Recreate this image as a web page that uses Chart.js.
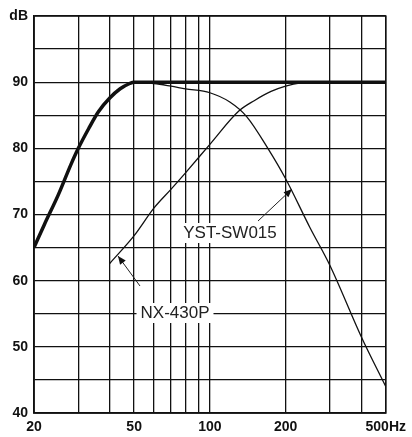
<!DOCTYPE html><html><head><meta charset="utf-8">
<script src="https://cdn.jsdelivr.net/npm/chart.js@4"></script>
<style>html,body{margin:0;background:#fff}#w{width:412px;height:437px}</style></head><body>
<div id="w"><canvas id="c"></canvas></div>
<script>
const combinedFreq=[20,22,25,28,30,33,36,40,44,48,50,55,60,80,100,150,200,300,500];
const combinedDb=[65,68.5,73,77.5,80,83,85.5,87.6,89,89.8,90,90,90,90,90,90,90,90,90];
const nxFreq=[20,22,25,28,30,33,36,40,44,48,50,55,60,70,80,100,120,140,170,200,250,300,400,500];
const nxDb=[65,68.5,73,77.5,80,83,85.5,87.6,89,89.8,90,89.9,89.8,89.4,89,88.4,87,84.8,80,75.4,68,62.3,51.5,44];
const ystFreq=[40,50,60,70,80,100,130,150,175,200,230,260,300,500];
const ystDb=[62.6,66.8,71,73.8,76.3,80.6,85.6,87.2,88.6,89.4,89.9,90,90,90];
const xGrid=[20,30,40,50,60,70,80,90,100,200,300,400,500];
const xLabels={20:'20',50:'50',100:'100',200:'200',500:'500Hz'};
const annotations=[
 {text:'YST-SW015',tx:230,ty:233,from:[258,221],to:[292,189]},
 {text:'NX-430P',tx:175,ty:313,from:[140,286],to:[118,256]}
];
const pts=(f,d)=>f.map((x,i)=>({x,y:d[i]}));
const ann={id:'ann',afterDatasetsDraw(ch){const c=ch.ctx;c.save();c.font='17px "Liberation Sans", Arial';c.textAlign='center';c.textBaseline='middle';
 annotations.forEach(a=>{const w=c.measureText(a.text).width;c.fillStyle='#fff';c.fillRect(a.tx-w/2-4,a.ty-10,w+8,20);c.fillStyle='#222';c.fillText(a.text,a.tx,a.ty);
 c.strokeStyle='#222';c.lineWidth=1;c.beginPath();c.moveTo(a.from[0],a.from[1]);c.lineTo(a.to[0],a.to[1]);c.stroke();
 const ang=Math.atan2(a.to[1]-a.from[1],a.to[0]-a.from[0]);c.beginPath();c.moveTo(a.to[0],a.to[1]);
 c.lineTo(a.to[0]-9*Math.cos(ang-0.4),a.to[1]-9*Math.sin(ang-0.4));c.lineTo(a.to[0]-9*Math.cos(ang+0.4),a.to[1]-9*Math.sin(ang+0.4));c.closePath();c.fillStyle='#111';c.fill();});
 c.restore();}};
const ds=(data,w)=>({data,borderColor:'#111',borderWidth:w,pointRadius:0,fill:false,cubicInterpolationMode:'monotone'});
new Chart(document.getElementById('c'),{type:'line',
 data:{datasets:[ds(pts(nxFreq,nxDb),1.3),ds(pts(ystFreq,ystDb),1.3),ds(pts(combinedFreq,combinedDb),3.5)]},
 options:{responsive:true,maintainAspectRatio:false,animation:false,
  layout:{padding:{left:0,right:26,top:16,bottom:0}},
  plugins:{legend:{display:false},tooltip:{enabled:false}},
  scales:{
   x:{type:'logarithmic',min:20,max:500,afterBuildTicks:s=>{s.ticks=xGrid.map(v=>({value:v}));},
    afterFit:s=>{s.height=24;},
    grid:{color:'#111',lineWidth:1.3,drawTicks:false},border:{color:'#111',width:1.5},
    ticks:{autoSkip:false,maxRotation:0,padding:6,color:'#111',font:{family:'"Liberation Sans", Arial',size:14,weight:'bold'},callback:v=>xLabels[v]||''}},
   y:{min:40,max:100,afterBuildTicks:s=>{const t=[];for(let v=40;v<=100;v+=5)t.push({value:v});s.ticks=t;},
    afterFit:s=>{s.width=34;},
    grid:{color:'#111',lineWidth:1.3,drawTicks:false},border:{color:'#111',width:1.5},
    ticks:{padding:6,color:'#111',font:{family:'"Liberation Sans", Arial',size:14,weight:'bold'},callback:v=>v===100?'dB':(v%10===0?String(v):'')}}
  }},
 plugins:[ann,{id:'frame',afterDraw(ch){const a=ch.chartArea,c=ch.ctx;c.save();c.strokeStyle='#111';c.lineWidth=1.5;c.strokeRect(a.left,a.top,a.right-a.left,a.bottom-a.top);c.restore();}}]
});
</script></body></html>
